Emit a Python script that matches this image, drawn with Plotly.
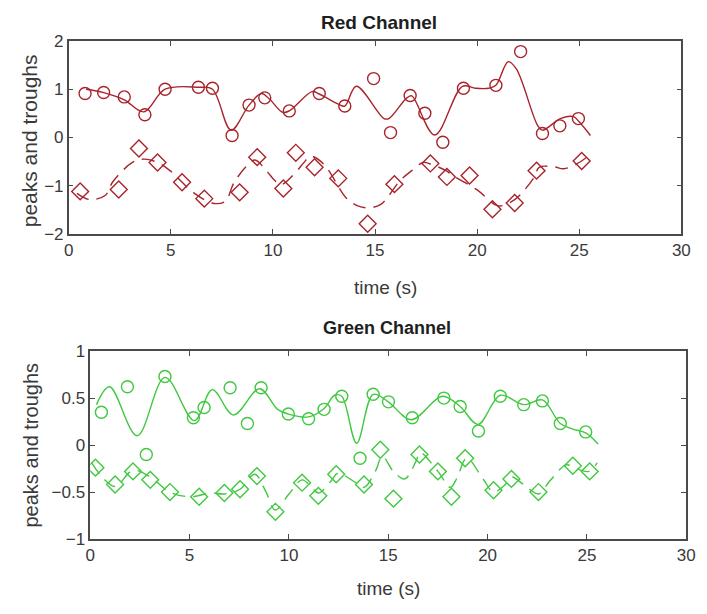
import plotly.graph_objects as go

# ---------------- Red channel data ----------------
red_peak_t = [0.80, 1.71, 2.72, 3.73, 4.72, 6.35, 7.04, 8.00, 8.83, 9.60, 10.80, 12.27, 13.52, 14.93,
              15.76, 16.72, 17.44, 18.32, 19.33, 20.92, 22.13, 23.20, 24.05, 24.96]
red_peak_v = [0.91, 0.93, 0.84, 0.47, 1.00, 1.04, 1.02, 0.04, 0.67, 0.82, 0.55, 0.91, 0.65, 1.22,
              0.10, 0.87, 0.50, -0.10, 1.02, 1.08, 1.78, 0.08, 0.24, 0.39]
red_trough_t = [0.56, 2.45, 3.44, 4.35, 5.55, 6.64, 8.37, 9.23, 10.51, 11.12, 12.04, 13.20, 14.64,
                15.95, 17.71, 18.52, 19.63, 20.75, 21.84, 22.91, 25.12]
red_trough_v = [-1.12, -1.08, -0.23, -0.52, -0.93, -1.27, -1.14, -0.41, -1.06, -0.32, -0.62, -0.85,
                -1.79, -0.97, -0.54, -0.82, -0.79, -1.49, -1.36, -0.69, -0.49]
red_upper_t = [0.85, 1.71, 2.72, 3.68, 4.72, 6.35, 7.04, 7.95, 8.83, 9.44, 9.84, 10.48, 10.80, 11.92,
               12.27, 13.20, 13.52, 14.08, 15.44, 15.68, 16.56, 16.80, 17.92, 19.28, 19.92, 20.56,
               20.92, 21.52, 21.92, 22.96, 23.20, 24.08, 24.72, 24.96, 25.55]
red_upper_v = [1.00, 0.93, 0.78, 0.53, 1.00, 1.04, 1.00, 0.15, 0.67, 0.91, 0.79, 0.52, 0.55, 0.95,
               0.90, 0.69, 0.65, 1.06, 0.39, 0.39, 0.82, 0.86, 0.05, 1.06, 1.02, 1.02,
               1.08, 1.57, 1.42, 0.25, 0.15, 0.39, 0.43, 0.34, 0.04]
red_lower_t = [0.40, 1.04, 1.80, 2.16, 3.12, 3.68, 4.35, 4.96, 6.16, 7.12, 7.68, 8.08, 8.72, 9.12,
               9.68, 10.08, 10.40, 11.12, 11.52, 11.84, 12.48, 13.60, 14.16, 14.64, 15.28, 16.24,
               16.80, 17.36, 17.76, 18.48, 18.80, 20.00, 21.04, 21.84, 22.32, 22.80, 23.04, 23.76,
               24.24, 24.88, 25.44]
red_lower_v = [-1.16, -1.29, -1.20, -0.92, -0.52, -0.45, -0.52, -0.69, -1.16, -1.37, -1.32, -0.95,
               -0.59, -0.47, -0.69, -0.89, -0.98, -0.72, -0.52, -0.39, -0.55, -1.26, -1.42, -1.46,
               -1.39, -0.89, -0.69, -0.52, -0.56, -0.69, -0.79, -1.09, -1.42, -1.29, -1.09, -0.82,
               -0.62, -0.61, -0.65, -0.55, -0.39]

# ---------------- Green channel data ----------------
green_peak_t = [0.56, 1.87, 2.82, 3.76, 5.19, 5.73, 7.04, 7.91, 8.60, 9.97, 10.99, 11.77, 12.66, 13.58,
                14.24, 15.01, 16.21, 17.80, 18.62, 19.54, 20.64, 21.82, 22.76, 23.66, 24.94]
green_peak_v = [0.35, 0.62, -0.10, 0.73, 0.29, 0.40, 0.61, 0.23, 0.61, 0.33, 0.28, 0.38, 0.52, -0.14,
                0.54, 0.46, 0.29, 0.50, 0.41, 0.15, 0.52, 0.43, 0.47, 0.23, 0.14]
green_trough_t = [0.26, 1.25, 2.15, 3.02, 4.01, 5.48, 6.75, 7.54, 8.39, 9.32, 10.66, 11.48, 12.38,
                  13.78, 14.60, 15.26, 16.57, 17.50, 18.18, 18.87, 20.30, 21.20, 22.56, 24.29, 25.14]
green_trough_v = [-0.24, -0.42, -0.28, -0.37, -0.50, -0.55, -0.51, -0.47, -0.33, -0.71, -0.40, -0.54,
                  -0.31, -0.42, -0.05, -0.57, -0.10, -0.28, -0.55, -0.14, -0.48, -0.36, -0.50, -0.22, -0.28]
green_upper_t = [0.31, 0.97, 2.36, 3.76, 5.24, 6.14, 7.21, 8.52, 9.43, 9.97, 10.99, 11.77, 12.30,
                 12.66, 13.41, 14.24, 15.00, 16.16, 17.72, 18.62, 19.52, 20.64, 21.82, 22.76, 23.66,
                 24.29, 24.94, 25.57]
green_upper_v = [0.43, 0.62, 0.10, 0.72, 0.26, 0.59, 0.32, 0.60, 0.38, 0.33, 0.30, 0.39, 0.53,
                 0.52, 0.02, 0.54, 0.46, 0.27, 0.52, 0.41, 0.22, 0.53, 0.43, 0.48, 0.23,
                 0.17, 0.13, 0.01]
green_lower_t = [0.07, 0.64, 1.25, 2.15, 3.02, 4.00, 5.07, 6.06, 6.75, 7.54, 8.28, 8.85, 9.31, 10.00,
                 10.66, 11.07, 11.48, 12.13, 12.46, 13.37, 13.78, 14.35, 14.70, 15.26, 15.83, 16.40,
                 16.60, 17.50, 18.13, 18.46, 18.95, 19.77, 20.30, 20.84, 21.20, 21.82, 22.56, 23.14,
                 23.96, 24.45, 25.10, 25.52]
green_lower_v = [-0.19, -0.35, -0.44, -0.27, -0.34, -0.50, -0.55, -0.51, -0.52, -0.47, -0.31, -0.50,
                 -0.69, -0.52, -0.37, -0.43, -0.51, -0.38, -0.30, -0.40, -0.45, -0.28, -0.12, -0.28,
                 -0.36, -0.17, -0.08, -0.28, -0.45, -0.35, -0.14, -0.36, -0.50, -0.43, -0.34, -0.42,
                 -0.52, -0.38, -0.21, -0.25, -0.28, -0.19]

x_ticks = [0, 5, 10, 15, 20, 25, 30]
red_y_ticks = [-2, -1, 0, 1, 2]
green_y_ticks = [-1, -0.5, 0, 0.5, 1]

RED = "#a8242c"
GREEN = "#40c840"
W, H = 707, 614
FONT = "Liberation Sans, Arial, sans-serif"
TXT = "#3a3a3a"

fig = go.Figure()

def add_channel(color, ut, uv, lt, lv, pt, pv, tt, tv, xa, ya):
    fig.add_trace(go.Scatter(x=ut, y=uv, mode="lines", line=dict(color=color, width=1.4, shape="spline", smoothing=1.0),
                             xaxis=xa, yaxis=ya, showlegend=False, hoverinfo="skip"))
    fig.add_trace(go.Scatter(x=lt, y=lv, mode="lines", line=dict(color=color, width=1.4, shape="spline", smoothing=1.0,
                                                                 dash="13px,8px"),
                             xaxis=xa, yaxis=ya, showlegend=False, hoverinfo="skip"))
    fig.add_trace(go.Scatter(x=pt, y=pv, mode="markers",
                             marker=dict(symbol="circle-open", size=12, color=color, line=dict(width=1.4, color=color)),
                             xaxis=xa, yaxis=ya, showlegend=False))
    fig.add_trace(go.Scatter(x=tt, y=tv, mode="markers",
                             marker=dict(symbol="diamond-open", size=13, color=color, line=dict(width=1.4, color=color)),
                             xaxis=xa, yaxis=ya, showlegend=False))

add_channel(RED, red_upper_t, red_upper_v, red_lower_t, red_lower_v,
            red_peak_t, red_peak_v, red_trough_t, red_trough_v, "x", "y")
add_channel(GREEN, green_upper_t, green_upper_v, green_lower_t, green_lower_v,
            green_peak_t, green_peak_v, green_trough_t, green_trough_v, "x2", "y2")

axis_common = dict(showgrid=False, zeroline=False, showline=True, linecolor="#4a4a4a", linewidth=1.5,
                   mirror="ticks", ticks="inside", ticklen=5, tickcolor="#4a4a4a", tickwidth=1.3,
                   tickfont=dict(family=FONT, color=TXT, size=17))

top_x = [65 / W, 690 / W]
top_y = [1 - 232 / H, 1 - 33 / H]
bot_x = [87 / W, 695 / W]
bot_y = [1 - 547 / H, 1 - 353 / H]

fig.update_layout(
    width=W, height=H,
    margin=dict(l=0, r=0, t=0, b=0),
    paper_bgcolor="white", plot_bgcolor="white",
    font=dict(family=FONT, color=TXT),
    xaxis=dict(domain=top_x, range=[0, 30], tickvals=x_ticks, anchor="y", **axis_common),
    yaxis=dict(domain=top_y, range=[-2, 2], tickvals=red_y_ticks, anchor="x", **axis_common),
    xaxis2=dict(domain=bot_x, range=[0, 30], tickvals=x_ticks, anchor="y2", **axis_common),
    yaxis2=dict(domain=bot_y, range=[-1, 1], tickvals=green_y_ticks, anchor="x2", **axis_common),
)

def ann(text, xpx, ypx, size, bold=False, angle=0):
    fig.add_annotation(text=f"<b>{text}</b>" if bold else text, x=xpx / W, y=1 - ypx / H,
                       xref="paper", yref="paper", showarrow=False, textangle=angle,
                       xanchor="center", yanchor="middle",
                       font=dict(family=FONT, size=size, color="#1e1e1e" if bold else TXT))

ann("Red Channel", 382, 14, 19, bold=True)
ann("Green Channel", 390, 329, 18, bold=True)
ann("time (s)", 388, 287, 19)
ann("time (s)", 391, 598, 19)
ann("peaks and troughs", 25, 136, 21, angle=-90)
ann("peaks and troughs", 27, 450, 20, angle=-90)

fig.write_html("out.html")
